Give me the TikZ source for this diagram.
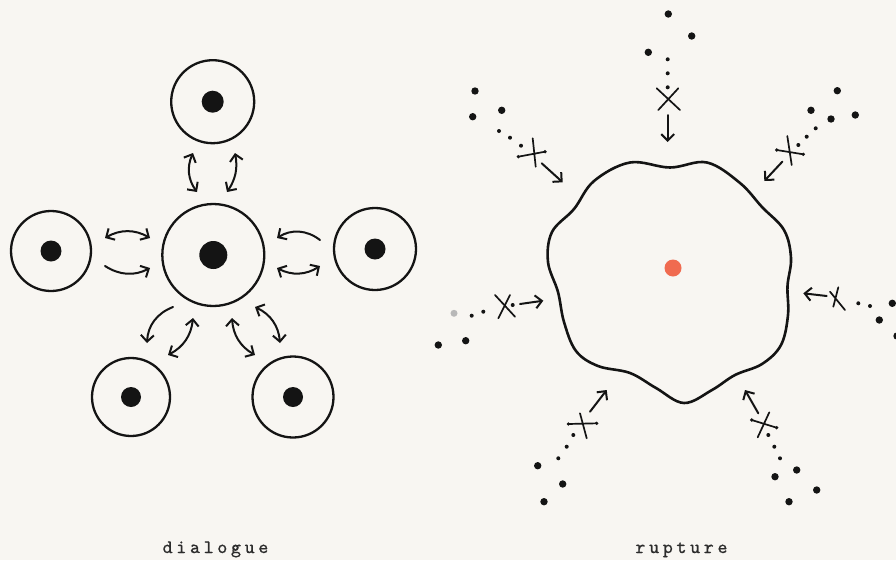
\documentclass[tikz,border=0pt]{standalone}
\usepackage{fontspec}
\usetikzlibrary{arrows.meta}
\newfontfamily\labfont{lmmono10-regular.otf}[FakeBold=0.8]
\definecolor{bg}{HTML}{F8F6F2}
\definecolor{ink}{HTML}{141414}
\definecolor{dotred}{HTML}{F06B50}
\definecolor{txt}{HTML}{2C2C2C}
\definecolor{gdot}{HTML}{B8B8B8}
\tikzset{
  ring/.style={circle, draw=ink, line width=2.3pt, inner sep=0pt},
  core/.style={circle, fill=ink, inner sep=0pt},
  arr/.style={draw=ink, line width=2pt, line cap=round, -{Straight Barb[length=6.5pt,width=13pt]}},
  darr/.style={draw=ink, line width=2pt, line cap=round, {Straight Barb[length=6.5pt,width=13pt]}-{Straight Barb[length=6.5pt,width=13pt]}},
  starline/.style={draw=ink, line width=1.7pt, line cap=round},
  lab/.style={font=\labfont\fontsize{19}{21}\selectfont, text=txt, anchor=base},
}
\newcommand\gap{\kern3.7pt}
\begin{document}
\begin{tikzpicture}[x=1pt,y=-1pt]
\fill[bg] (0,0) rectangle (896,560);
\useasboundingbox (0,0) rectangle (896,560);

% ---------- left: dialogue ----------
\node[ring, minimum size=102pt] (c0) at (213.3,255) {};
\node[core, minimum size=28pt] (d0) at (c0.center) {};
\node[ring, minimum size=83pt] (ct) at (212.7,101.7) {};
\node[core, minimum size=22pt] (dt) at (ct.center) {};
\node[ring, minimum size=80pt] (cl) at (51,251) {};
\node[core, minimum size=21pt] (dl) at (cl.center) {};
\node[ring, minimum size=82pt] (cr) at (375,249) {};
\node[core, minimum size=21pt] (dr) at (cr.center) {};
\node[ring, minimum size=78pt] (cbl) at (131,397) {};
\node[core, minimum size=20pt] (dbl) at (cbl.center) {};
\node[ring, minimum size=81pt] (cbr) at (293,397) {};
\node[core, minimum size=20pt] (dbr) at (cbr.center) {};

% arrow end points
\coordinate (t1a) at (193,153); \coordinate (t1b) at (197,192);
\coordinate (t2a) at (235,153); \coordinate (t2b) at (227,192);
\coordinate (l1a) at (105,238); \coordinate (l1b) at (150,238);
\coordinate (l2a) at (105,266); \coordinate (l2b) at (150,268);
\coordinate (r1a) at (320,240); \coordinate (r1b) at (277,238);
\coordinate (r2a) at (277,268); \coordinate (r2b) at (320,266);
\coordinate (b1a) at (173,307); \coordinate (b1b) at (147,343);
\coordinate (b2a) at (193,318); \coordinate (b2b) at (168,355);
\coordinate (b3a) at (232,318); \coordinate (b3b) at (255,355);
\coordinate (b4a) at (255,307); \coordinate (b4b) at (280,343);

\draw[darr] (t1a) to[bend right=30] (t1b);
\draw[darr] (t2a) to[bend left=22] (t2b);
\draw[darr] (l1a) to[bend left=30] (l1b);
\draw[arr]  (l2a) to[bend right=30] (l2b);
\draw[arr]  (r1a) to[bend right=35] (r1b);
\draw[darr] (r2a) to[bend right=30] (r2b);
\draw[arr]  (b1a) to[bend right=33] (b1b);
\draw[darr] (b2a) to[bend left=28] (b2b);
\draw[darr] (b3a) to[bend right=28] (b3b);
\draw[darr] (b4a) to[bend left=30] (b4b);

\node[lab] (ldia) at (215.5,553) {d\gap i\gap a\gap l\gap o\gap g\gap u\gap e};

% ---------- right: rupture ----------
\draw[ink, line width=2.6pt] plot[smooth cycle, tension=0.6] coordinates {
 (630,162.5) (670,167.5) (707,162.5) (740,183) (762,207) (784,230)
 (791,258) (787.5,286) (788,315) (781,345) (762,364) (735,375)
 (712,390) (684,403) (656,388) (630,373) (598,366) (576,351)
 (564,322) (558,292) (548,262) (552,232) (574,209) (594,181)};
\node[circle, fill=dotred, inner sep=0pt, minimum size=17pt] (core) at (673,268) {};

% big dots
\foreach \p in {(668.3,14),(691.7,36),(648.3,52.3),
  (475,91),(472.7,116.7),(501.7,110.3),
  (837.3,90.7),(811,110.3),(831,119),(855.3,115),
  (438.3,345),(465.7,340.7),
  (892.3,303.3),(879.3,320),(897,336),
  (537.7,465.7),(562.7,484),(544,501.7),
  (796.7,470),(775,476.7),(816.7,490),(789,501.7)}
  \fill[ink] \p circle[radius=3.7pt];
\fill[gdot] (454,313.3) circle[radius=3.5pt];
% small dots
\foreach \p in {(667.7,59.3),(667.7,73.3),(667.7,87.3),
  (499,131),(510,137.7),(521,145.7),
  (815.7,128.3),(806.7,136.7),(798.3,145),
  (471.7,315.7),(483.3,311.7),(512.7,305),
  (858.3,303.3),(870,306),
  (573.3,435),(566.7,446.7),(558.3,458.3),
  (768.3,435),(774.3,446.7),(780,458.3)}
  \fill[ink] \p circle[radius=2pt];

% crosses
\draw[starline] (656.7,88.3) -- (680,110) (678.3,88.3) -- (658.3,110);
\draw[starline] (532.7,138.3) -- (535.7,166.7) (518.3,156.7) -- (545,151.7);
\fill[ink] (518.3,156.7) circle[radius=1.8pt] (545,151.7) circle[radius=1.8pt];
\draw[starline] (787.3,136) -- (791.7,165) (776.7,150) -- (803.3,154.3);
\fill[ink] (776.7,150) circle[radius=1.8pt] (803.3,154.3) circle[radius=1.8pt];
\draw[starline] (495,295) -- (515,316.7) (510,295) -- (498.3,318.3);
\draw[starline] (830,291.7) -- (845,310) (838.3,287.3) -- (833.3,306.7);
\draw[starline] (568.3,424) -- (596.7,423.3) (580,413.3) -- (586.7,438.3);
\fill[ink] (568.3,424) circle[radius=1.8pt] (596.7,423.3) circle[radius=1.8pt];
\draw[starline] (751.7,420) -- (776.7,427.7) (769.3,412.3) -- (757.7,437.3);
\fill[ink] (751.7,420) circle[radius=1.8pt] (776.7,427.7) circle[radius=1.8pt];

% inward arrows
\coordinate (s1a) at (667.7,115); \coordinate (s1b) at (667.7,142);
\coordinate (s2a) at (541.7,163.3); \coordinate (s2b) at (562.7,182.3);
\coordinate (s3a) at (782.3,161.7); \coordinate (s3b) at (764.3,181);
\coordinate (s4a) at (520,304); \coordinate (s4b) at (543.3,300.7);
\coordinate (s5a) at (826.7,296); \coordinate (s5b) at (803.3,293.3);
\coordinate (s6a) at (590,411.7); \coordinate (s6b) at (606.7,390);
\coordinate (s7a) at (758.3,413.3); \coordinate (s7b) at (745,390);
\foreach \i in {1,...,7} \draw[arr] (s\i a) -- (s\i b);

\node[lab] (lrup) at (681.5,553) {r\gap u\gap p\gap t\gap u\gap r\gap e};
\end{tikzpicture}
\end{document}
